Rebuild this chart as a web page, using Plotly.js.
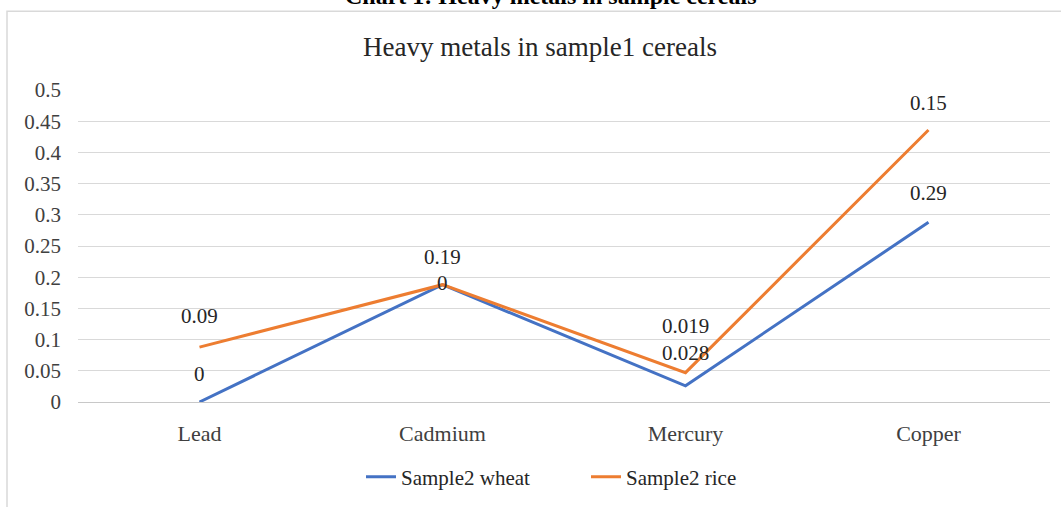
<!DOCTYPE html>
<html>
<head>
<meta charset="utf-8">
<script src="https://cdn.plot.ly/plotly-3.0.1.min.js"></script>
<style>html,body{margin:0;padding:0;background:#fff;}#chart{width:1061px;height:507px;}</style>
</head>
<body>
<div id="chart"></div>
<script>
const categories = ['Lead', 'Cadmium', 'Mercury', 'Copper'];
const wheatValues = [0, 0.188, 0.026, 0.288];
const riceValues = [0.088, 0.188, 0.047, 0.436];
const wheatLabels = ['0', '0', '0.028', '0.29'];
const riceLabels = ['0.09', '0.19', '0.019', '0.15'];
const yTicks = [0, 0.05, 0.1, 0.15, 0.2, 0.25, 0.3, 0.35, 0.4, 0.45, 0.5];
const yTickText = ['0', '0.05', '0.1', '0.15', '0.2', '0.25', '0.3', '0.35', '0.4', '0.45', '0.5'];

// label vertical offsets (px), styling only
const wheatShift = [28, 2, 33, 29];
const riceShift = [31, 28, 47, 27];

const serif = 'Liberation Serif, Times New Roman, serif';
const labelFont = {family: serif, size: 21, color: '#262626'};

const traces = [
  {x: categories, y: wheatValues, type: 'scatter', mode: 'lines', name: 'Sample2 wheat',
   line: {color: '#4472C4', width: 3}},
  {x: categories, y: riceValues, type: 'scatter', mode: 'lines', name: 'Sample2 rice',
   line: {color: '#ED7D31', width: 3}}
];

const annotations = [];
categories.forEach((c, i) => {
  annotations.push({x: c, y: wheatValues[i], text: wheatLabels[i], showarrow: false,
    yshift: wheatShift[i], font: labelFont, xref: 'x', yref: 'y'});
  annotations.push({x: c, y: riceValues[i], text: riceLabels[i], showarrow: false,
    yshift: riceShift[i], font: labelFont, xref: 'x', yref: 'y'});
});
annotations.push({xref: 'paper', yref: 'paper', x: 0.5, y: 1.252, xanchor: 'center', yanchor: 'bottom',
  text: '<b>Chart 1: Heavy metals in sample cereals</b>', showarrow: false,
  font: {family: serif, size: 24, color: '#000'}, xshift: -14});

const layout = {
  width: 1061, height: 507,
  margin: {l: 78, r: 11, t: 90, b: 104},
  paper_bgcolor: '#fff', plot_bgcolor: '#fff',
  title: {text: 'Heavy metals in sample1 cereals', x: 540/1061, xref: 'container', xanchor: 'center',
    y: 1 - 47/507, yref: 'container', yanchor: 'middle',
    font: {family: serif, size: 27, color: '#262626'}},
  xaxis: {type: 'category', range: [-0.5, 3.5], showgrid: false, showline: true, linecolor: '#c8c8c8', linewidth: 1,
    ticks: '', ticklabelstandoff: 12, tickfont: {family: serif, size: 22, color: '#404040'}, fixedrange: true, zeroline: false},
  yaxis: {range: [0, 0.5], tickvals: yTicks, ticktext: yTickText, showgrid: true, gridcolor: '#d9d9d9', gridwidth: 1,
    zeroline: false, showline: false, ticks: '', ticklabelstandoff: 16,
    tickfont: {family: serif, size: 21, color: '#404040'}, fixedrange: true},
  showlegend: true,
  legend: {orientation: 'h', x: (361 - 78) / 972, xanchor: 'left', y: (403 - 477) / 313, yanchor: 'middle',
    font: {family: serif, size: 21, color: '#262626'}, itemwidth: 30, entrywidth: 180, traceorder: 'normal'},
  annotations: annotations,
  shapes: [{type: 'rect', xref: 'paper', yref: 'paper', x0: (7 - 78) / 972, x1: (1070 - 78) / 972,
    y0: (403 - 515) / 313, y1: (403 - 11) / 313, line: {color: '#d9d9d9', width: 1.5}, fillcolor: 'rgba(0,0,0,0)', layer: 'below'}]
};

Plotly.newPlot('chart', traces, layout, {displayModeBar: false, staticPlot: true});
</script>
</body>
</html>
